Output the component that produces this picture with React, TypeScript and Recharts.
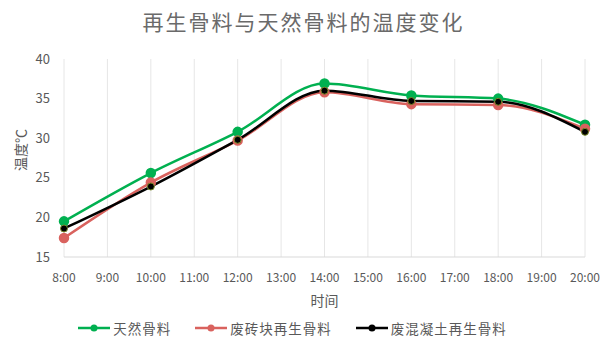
import React from 'react';
import { LineChart, Line, XAxis, YAxis, CartesianGrid, Legend } from 'recharts';

const hours = [8, 10, 12, 14, 16, 18, 20];
const natural = [19.5, 25.6, 30.8, 36.9, 35.4, 35.0, 31.7];
const brick = [17.4, 24.4, 29.7, 35.8, 34.3, 34.2, 31.2];
const concrete = [18.6, 23.9, 29.8, 36.0, 34.7, 34.6, 30.8];
const xTicks = [8, 9, 10, 11, 12, 13, 14, 15, 16, 17, 18, 19, 20];
const yTicks = [15, 20, 25, 30, 35, 40];
const seriesNames = ['天然骨料', '废砖块再生骨料', '废混凝土再生骨料'];
const seriesColors = ['#00B050', '#D9625E', '#000000'];

const data = hours.map((h, i) => ({ t: h, a: natural[i], b: brick[i], c: concrete[i] }));

const FONT = '"Noto Sans CJK SC", "Noto Sans", sans-serif';

const LegendContent = () => (
  <div style={{ display: 'flex', justifyContent: 'center', alignItems: 'center', fontFamily: FONT, fontSize: 13.5, color: '#595959' }}>
    {seriesNames.map((n, i) => (
      <div key={n} style={{ display: 'flex', alignItems: 'center', marginRight: i < 2 ? 24 : 0 }}>
        <svg width={32} height={10} style={{ marginRight: 3 }}>
          <line x1={0} y1={5} x2={32} y2={5} stroke={seriesColors[i]} strokeWidth={2.5} />
          <circle cx={16} cy={5} r={3.5} fill={seriesColors[i]} />
        </svg>
        <span style={{ letterSpacing: 1 }}>{n}</span>
      </div>
    ))}
  </div>
);

const YLabel = () => (
  <text x={20} y={150} transform="rotate(-90 20 150)" textAnchor="middle" dominantBaseline="central" fill="#595959" fontSize={14} fontFamily={FONT}>
    温度℃
  </text>
);

export default function App() {
  return (
    <div style={{ position: 'absolute', left: 0, top: 0, width: 607, height: 338, background: '#fff' }}>
      <div style={{ position: 'absolute', left: 0, top: 6, width: 607, textAlign: 'center', fontFamily: FONT, fontSize: 21, color: '#6A6A6A', letterSpacing: 2 }}>
        再生骨料与天然骨料的温度变化
      </div>
      <LineChart width={607} height={338} data={data} margin={{ top: 59, right: 22, left: 0, bottom: 0 }}>
        <CartesianGrid horizontal={false} vertical={true} stroke="#E6E6E6" />
        <XAxis
          dataKey="t"
          type="number"
          domain={[8, 20]}
          ticks={xTicks}
          interval={0}
          tickFormatter={(v: number) => `${v}:00`}
          stroke="#D9D9D9"
          tickLine={false}
          tick={{ fill: '#595959', fontSize: 12, fontFamily: FONT }}
          tickMargin={10}
          height={61}
          label={{ value: '时间', position: 'insideBottom', offset: 12, fill: '#595959', fontSize: 14, fontFamily: FONT }}
        />
        <YAxis
          domain={[15, 40]}
          ticks={yTicks}
          interval={0}
          width={64}
          axisLine={false}
          tickLine={false}
          tickMargin={8}
          tick={{ fill: '#595959', fontSize: 13, fontFamily: FONT }}
          label={<YLabel />}
        />
        <Legend verticalAlign="bottom" height={20} content={<LegendContent />} />
        <Line type="monotone" dataKey="a" name={seriesNames[0]} stroke={seriesColors[0]} strokeWidth={2.5} dot={{ r: 4, fill: seriesColors[0], stroke: seriesColors[0] }} isAnimationActive={false} />
        <Line type="monotone" dataKey="b" name={seriesNames[1]} stroke={seriesColors[1]} strokeWidth={2.5} dot={{ r: 4, fill: seriesColors[1], stroke: seriesColors[1] }} isAnimationActive={false} />
        <Line type="monotone" dataKey="c" name={seriesNames[2]} stroke={seriesColors[2]} strokeWidth={2.5} dot={{ r: 3.5, fill: seriesColors[2], stroke: '#7A8A2A', strokeWidth: 1 }} isAnimationActive={false} />
      </LineChart>
    </div>
  );
}
